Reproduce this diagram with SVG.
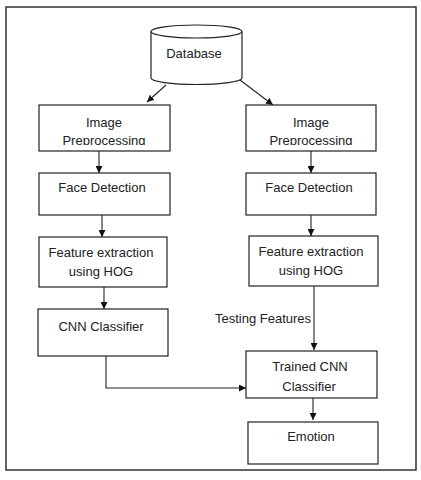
<svg xmlns="http://www.w3.org/2000/svg" width="421" height="480" viewBox="0 0 421 480">
<defs>
<style>
.box{fill:#fff;stroke:#222;stroke-width:1.2}
.frame{fill:#fff;stroke:#333;stroke-width:1.5}
.t{font-family:"Liberation Sans",Arial,sans-serif;font-size:13px;fill:#222;text-anchor:middle}
.ln{fill:none;stroke:#222;stroke-width:1.1}
</style>
<marker id="ah" viewBox="0 0 10 10" refX="10" refY="5" markerWidth="7" markerHeight="7" markerUnits="userSpaceOnUse" orient="auto">
<path d="M0,0 L10,5 L0,10 z" fill="#111"/>
</marker>
<clipPath id="cl"><rect x="39" y="105" width="131" height="40"/></clipPath>
<clipPath id="cr"><rect x="246" y="105" width="130" height="40"/></clipPath>
</defs>
<rect x="0" y="0" width="421" height="480" fill="#fff"/>
<rect class="frame" x="6" y="7" width="410" height="463"/>
<g id="connectors">
<line class="ln" x1="166" y1="85" x2="147" y2="102" marker-end="url(#ah)"/>
<line class="ln" x1="240" y1="80" x2="273" y2="105" marker-end="url(#ah)"/>
<line class="ln" x1="99" y1="151" x2="99" y2="173" marker-end="url(#ah)"/>
<line class="ln" x1="311" y1="151" x2="311" y2="173" marker-end="url(#ah)"/>
<line class="ln" x1="102" y1="215" x2="102" y2="237" marker-end="url(#ah)"/>
<line class="ln" x1="311" y1="215" x2="311" y2="236" marker-end="url(#ah)"/>
<line class="ln" x1="104" y1="287" x2="104" y2="309" marker-end="url(#ah)"/>
<line class="ln" x1="314" y1="286" x2="314" y2="350" marker-end="url(#ah)"/>
<polyline class="ln" points="106,356 106,388 246,388" marker-end="url(#ah)"/>
<line class="ln" x1="313" y1="398" x2="313" y2="420" marker-end="url(#ah)"/>
<text class="t" x="263" y="323">Testing Features</text>
</g>
<g id="database">
<path class="box" d="M151,31.5 L151,78 A45.5,6.5 0 0 0 242,78 L242,31.5"/>
<ellipse class="box" cx="196.5" cy="31.5" rx="45.5" ry="6.5"/>
<text class="t" x="194" y="58">Database</text>
</g>
<g id="preproc-left">
<rect class="box" x="39" y="105" width="131" height="46"/>
<text class="t" x="104" y="127">Image</text>
<text class="t" x="104" y="145" clip-path="url(#cl)">Preprocessing</text>
</g>
<g id="preproc-right">
<rect class="box" x="246" y="105" width="130" height="46"/>
<text class="t" x="311" y="127">Image</text>
<text class="t" x="311" y="145" clip-path="url(#cr)">Preprocessing</text>
</g>
<g id="face-left">
<rect class="box" x="39" y="173" width="131" height="42"/>
<text class="t" x="102" y="192">Face Detection</text>
</g>
<g id="face-right">
<rect class="box" x="246" y="173" width="130" height="42"/>
<text class="t" x="309" y="192">Face Detection</text>
</g>
<g id="feat-left">
<rect class="box" x="39" y="237" width="128" height="50"/>
<text class="t" x="101" y="257">Feature extraction</text>
<text class="t" x="101" y="276">using HOG</text>
</g>
<g id="feat-right">
<rect class="box" x="249" y="236" width="129" height="50"/>
<text class="t" x="311" y="256">Feature extraction</text>
<text class="t" x="311" y="275">using HOG</text>
</g>
<g id="cnn">
<rect class="box" x="38" y="309" width="130" height="47"/>
<text class="t" x="101" y="331">CNN Classifier</text>
</g>
<g id="trained">
<rect class="box" x="246" y="351" width="131" height="47"/>
<text class="t" x="310" y="371">Trained CNN</text>
<text class="t" x="309" y="391">Classifier</text>
</g>
<g id="emotion">
<rect class="box" x="248" y="422" width="130" height="42"/>
<text class="t" x="311" y="441">Emotion</text>
</g>
</svg>
